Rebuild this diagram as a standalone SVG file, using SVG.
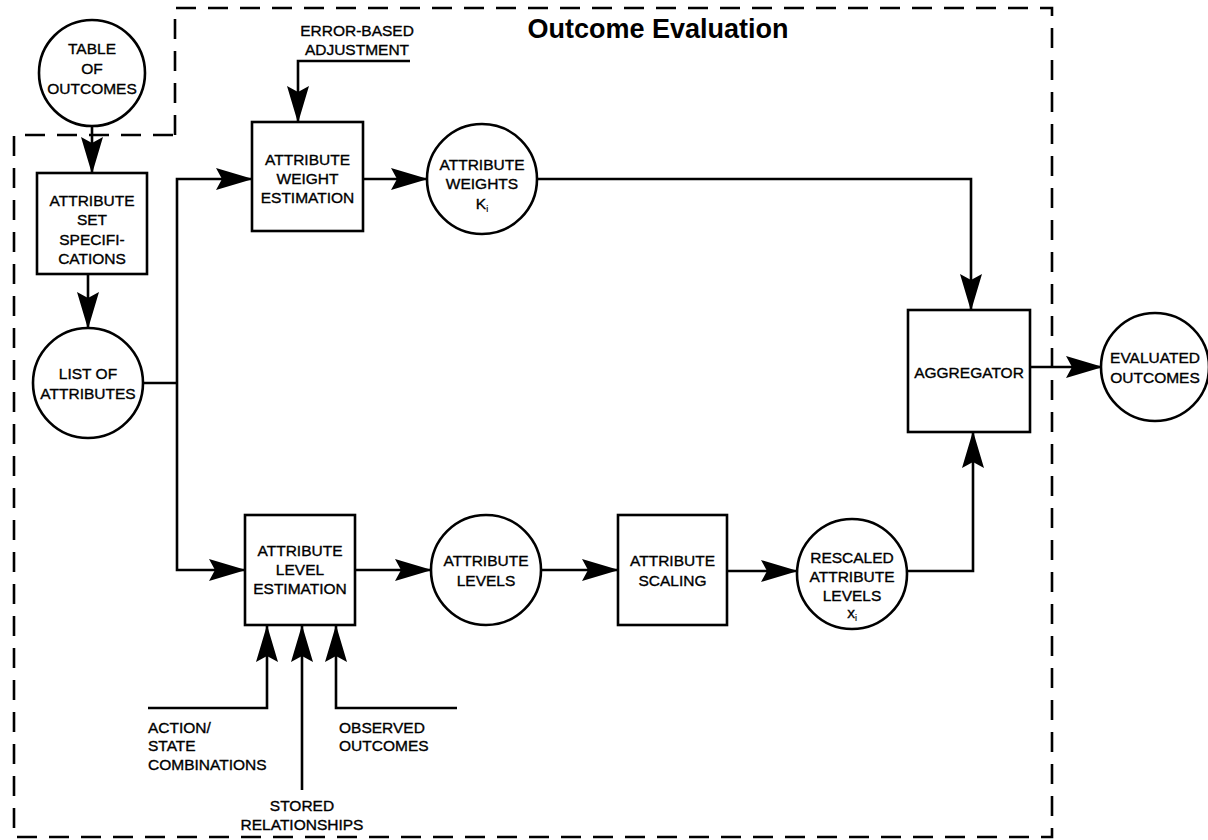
<svg xmlns="http://www.w3.org/2000/svg" width="1208" height="840" viewBox="0 0 1208 840">
  <style>
    .node { fill: #fff; stroke: #000; stroke-width: 2.6; }
    .lbl { font-family: "Liberation Sans", Arial, sans-serif; font-size: 15.5px; fill: #000; stroke: #000; stroke-width: 0.35; text-anchor: middle; }
    .ext { font-family: "Liberation Sans", Arial, sans-serif; font-size: 15.5px; fill: #000; stroke: #000; stroke-width: 0.35; }
    .wire { fill: none; stroke: #000; stroke-width: 2.6; }
    .arrow { fill: none; stroke: #000; stroke-width: 2.6; marker-end: url(#head); }
    .frame { fill: none; stroke: #000; stroke-width: 2.6; stroke-dasharray: 20 12; }
    .title { font-family: "Liberation Sans", Arial, sans-serif; font-size: 27px; font-weight: bold; fill: #000; text-anchor: middle; }
    .sub { font-size: 9px; stroke-width: 0.2; }
  </style>
  <defs>
    <marker id="head" viewBox="0 0 37 22" markerWidth="37" markerHeight="22" refX="36" refY="11" orient="auto" markerUnits="userSpaceOnUse">
      <path d="M0,0 L37,11 L0,22 L6,11 Z" fill="#000"/>
    </marker>
  </defs>
  <rect width="1208" height="840" fill="#fff"/>

  <!-- subsystem boundary -->
  <g id="boundary">
    <path class="frame" d="M175,135 V8 H1052 V837 H14 V135 Z"/>
    <text class="title" x="658" y="38">Outcome Evaluation</text>
  </g>

  <!-- connectors -->
  <g id="connectors">
    <path class="arrow" d="M92,126 V173"/>
    <path class="arrow" d="M88,274 V328"/>
    <path class="wire" d="M143,383 H177"/>
    <path class="arrow" d="M177,383 V179 H252"/>
    <path class="arrow" d="M177,383 V570 H245"/>
    <path class="arrow" d="M410,61 H298 V122"/>
    <path class="arrow" d="M363,179 H427"/>
    <path class="arrow" d="M537,179 H971 V310"/>
    <path class="arrow" d="M355,570 H431"/>
    <path class="arrow" d="M541,570 H618"/>
    <path class="arrow" d="M727,571 H797"/>
    <path class="arrow" d="M907,571 H973 V432"/>
    <path class="arrow" d="M1030,367 H1102"/>
    <path class="arrow" d="M148,708 H267 V626"/>
    <path class="arrow" d="M302,790 V626"/>
    <path class="arrow" d="M457,708 H336 V626"/>
  </g>

  <g id="table-of-outcomes">
    <circle class="node" cx="92" cy="73" r="53"/>
    <text class="lbl" x="92" y="53.5">TABLE</text>
    <text class="lbl" x="92" y="73.5">OF</text>
    <text class="lbl" x="92" y="93.5">OUTCOMES</text>
  </g>

  <g id="attribute-set-specifications">
    <rect class="node" x="37" y="173" width="110" height="101"/>
    <text class="lbl" x="92" y="205.5">ATTRIBUTE</text>
    <text class="lbl" x="92" y="225">SET</text>
    <text class="lbl" x="92" y="244.5">SPECIFI-</text>
    <text class="lbl" x="92" y="264">CATIONS</text>
  </g>

  <g id="list-of-attributes">
    <circle class="node" cx="88" cy="383" r="55"/>
    <text class="lbl" x="88" y="378.5">LIST OF</text>
    <text class="lbl" x="88" y="398.5">ATTRIBUTES</text>
  </g>

  <g id="error-based-adjustment">
    <text class="ext" x="357" y="35.5" text-anchor="middle">ERROR-BASED</text>
    <text class="ext" x="357" y="55" text-anchor="middle">ADJUSTMENT</text>
  </g>

  <g id="attribute-weight-estimation">
    <rect class="node" x="252" y="122" width="111" height="109"/>
    <text class="lbl" x="307.5" y="164.5">ATTRIBUTE</text>
    <text class="lbl" x="307.5" y="183.5">WEIGHT</text>
    <text class="lbl" x="307.5" y="202.5">ESTIMATION</text>
  </g>

  <g id="attribute-weights">
    <circle class="node" cx="482" cy="179" r="55"/>
    <text class="lbl" x="482" y="169.5">ATTRIBUTE</text>
    <text class="lbl" x="482" y="188.5">WEIGHTS</text>
    <text class="lbl" x="482" y="208.5">K<tspan class="sub" dy="3">i</tspan></text>
  </g>

  <g id="attribute-level-estimation">
    <rect class="node" x="245" y="515" width="110" height="110"/>
    <text class="lbl" x="300" y="555.5">ATTRIBUTE</text>
    <text class="lbl" x="300" y="574.5">LEVEL</text>
    <text class="lbl" x="300" y="593.5">ESTIMATION</text>
  </g>

  <g id="attribute-levels">
    <circle class="node" cx="486" cy="570" r="55"/>
    <text class="lbl" x="486" y="565.5">ATTRIBUTE</text>
    <text class="lbl" x="486" y="585.5">LEVELS</text>
  </g>

  <g id="attribute-scaling">
    <rect class="node" x="618" y="515" width="109" height="110"/>
    <text class="lbl" x="672.5" y="565.5">ATTRIBUTE</text>
    <text class="lbl" x="672.5" y="585.5">SCALING</text>
  </g>

  <g id="rescaled-attribute-levels">
    <circle class="node" cx="852" cy="574" r="55"/>
    <text class="lbl" x="852" y="562.5">RESCALED</text>
    <text class="lbl" x="852" y="581.5">ATTRIBUTE</text>
    <text class="lbl" x="852" y="600.5">LEVELS</text>
    <text class="lbl" x="852" y="618">x<tspan class="sub" dy="3">i</tspan></text>
  </g>

  <g id="aggregator">
    <rect class="node" x="908" y="310" width="122" height="122"/>
    <text class="lbl" x="969" y="377.5">AGGREGATOR</text>
  </g>

  <g id="evaluated-outcomes">
    <circle class="node" cx="1155" cy="367" r="54"/>
    <text class="lbl" x="1155" y="362.5">EVALUATED</text>
    <text class="lbl" x="1155" y="382.5">OUTCOMES</text>
  </g>

  <g id="action-state-combinations">
    <text class="ext" x="148" y="732.5">ACTION/</text>
    <text class="ext" x="148" y="751">STATE</text>
    <text class="ext" x="148" y="770">COMBINATIONS</text>
  </g>

  <g id="stored-relationships">
    <text class="ext" x="302" y="810.5" text-anchor="middle">STORED</text>
    <text class="ext" x="302" y="830" text-anchor="middle">RELATIONSHIPS</text>
  </g>

  <g id="observed-outcomes">
    <text class="ext" x="339" y="732.5">OBSERVED</text>
    <text class="ext" x="339" y="751">OUTCOMES</text>
  </g>
</svg>
